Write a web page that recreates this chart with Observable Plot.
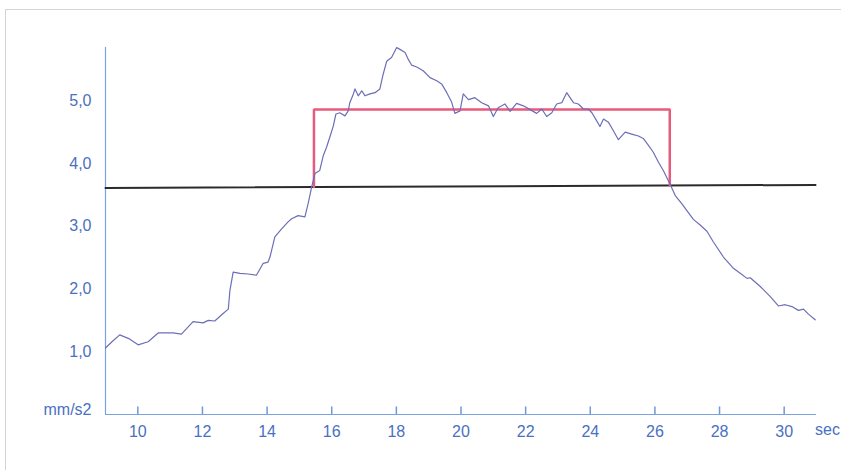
<!DOCTYPE html>
<html><head><meta charset="utf-8">
<script src="https://cdn.jsdelivr.net/npm/d3@7"></script>
<script src="https://cdn.jsdelivr.net/npm/@observablehq/plot@0.6"></script>
<style>
body{margin:0;background:#fff;}
#wrap{position:relative;width:841px;height:470px;overflow:hidden;background:#fff;}
#frame{position:absolute;left:5px;top:9px;width:900px;height:900px;border-left:1px solid #d4d4d4;border-top:1px solid #d4d4d4;}
#wrap svg{position:absolute;left:0;top:0;}
</style></head><body><div id="wrap"><div id="frame"></div></div>
<script>
// Time (s) and acceleration (mm/s2)
const seconds = [9.0,9.20,9.44,9.72,10.01,10.32,10.63,11.09,11.35,11.71,12.02,12.18,12.38,12.64,12.80,12.85,12.95,13.16,13.41,13.67,13.88,14.03,14.09,14.24,14.45,14.65,14.76,14.96,15.17,15.27,15.38,15.48,15.63,15.74,15.84,15.94,16.05,16.13,16.25,16.41,16.51,16.56,16.67,16.72,16.82,16.93,17.03,17.18,17.34,17.49,17.59,17.70,17.85,18.01,18.11,18.27,18.37,18.47,18.63,18.83,19.04,19.25,19.40,19.56,19.71,19.81,19.97,20.07,20.23,20.43,20.64,20.85,21.00,21.15,21.36,21.52,21.72,21.93,22.14,22.34,22.50,22.65,22.81,22.96,23.12,23.27,23.48,23.63,23.79,23.94,24.05,24.20,24.30,24.41,24.56,24.72,24.87,25.08,25.28,25.49,25.64,25.80,25.95,26.11,26.26,26.47,26.63,26.83,27.19,27.40,27.61,27.81,28.12,28.43,28.64,28.85,28.95,29.26,29.57,29.82,30.03,30.24,30.44,30.60,30.75,30.96];
const accel = [1.06,1.16,1.27,1.21,1.11,1.16,1.30,1.30,1.28,1.48,1.46,1.50,1.49,1.61,1.68,1.98,2.27,2.25,2.24,2.22,2.41,2.43,2.51,2.83,2.96,3.07,3.12,3.17,3.15,3.36,3.63,3.84,3.89,4.13,4.26,4.42,4.60,4.79,4.81,4.76,4.84,4.97,5.11,5.19,5.08,5.16,5.08,5.11,5.13,5.19,5.42,5.63,5.69,5.85,5.82,5.77,5.66,5.57,5.54,5.48,5.37,5.32,5.27,5.13,4.98,4.80,4.84,5.11,5.02,5.05,4.97,4.92,4.75,4.89,4.95,4.83,4.96,4.92,4.86,4.80,4.87,4.75,4.81,4.95,4.97,5.13,4.97,4.95,4.87,4.87,4.81,4.68,4.59,4.71,4.66,4.52,4.38,4.50,4.47,4.44,4.40,4.29,4.18,4.02,3.89,3.67,3.49,3.36,3.11,3.02,2.92,2.75,2.51,2.33,2.25,2.17,2.18,2.04,1.88,1.73,1.75,1.72,1.66,1.68,1.60,1.51];

// Threshold line (black)
const thresholdX = [9.0, 30.97];
const thresholdY = [3.61, 3.66];

// Window (pink): corners
const windowX = [15.45, 15.45, 26.46, 26.46];
const windowY = [3.625, 4.86, 4.86, 3.655];

const xTicks = [10,12,14,16,18,20,22,24,26,28,30];
const yTicks = [1,2,3,4,5];

const curve = seconds.map((s, i) => ({s, a: accel[i]}));
const thr = thresholdX.map((s, i) => ({s, a: thresholdY[i]}));
const win = windowX.map((s, i) => ({s, a: windowY[i]}));

const axisColor = "#7aa2e0";
const labelColor = "#4a70c2";

const chart = Plot.plot({
  width: 841,
  height: 470,
  marginLeft: 105,
  marginRight: 25,
  marginTop: 47,
  marginBottom: 56,
  style: {fontFamily: "'Liberation Sans', Arial, sans-serif", fontSize: "16px", color: labelColor, background: "transparent"},
  x: {domain: [9, 31]},
  y: {domain: [0, 5.85]},
  marks: [
    Plot.ruleX([9], {stroke: axisColor, strokeWidth: 1.2}),
    Plot.ruleY([0], {stroke: axisColor, strokeWidth: 1.2}),
    Plot.ruleX(xTicks, {x: d => d, y1: 0, y2: 0.12, stroke: "#6f98da", strokeWidth: 1.5}),
    Plot.axisX(xTicks, {tickSize: 0, tickPadding: 11, fontSize: 16, fill: labelColor, label: null}),
    Plot.axisY(yTicks, {tickSize: 0, tickPadding: 14, fontSize: 16, fill: labelColor, label: null,
      tickFormat: d => d.toFixed(1).replace(".", ",")}),
    Plot.text(["sec"], {frameAnchor: "bottom-right", dx: 11, dy: 20, textAnchor: "middle", fill: labelColor, fontSize: 16}),
    Plot.text(["mm/s2"], {frameAnchor: "bottom-left", dx: -14, dy: 0, textAnchor: "end", fill: labelColor, fontSize: 16}),
    Plot.line(thr, {x: "s", y: "a", stroke: "#2b2b2b", strokeWidth: 2}),
    Plot.line(win, {x: "s", y: "a", stroke: "#e85a7e", strokeWidth: 2.5, strokeLinejoin: "miter"}),
    Plot.line(curve, {x: "s", y: "a", stroke: "#6c6fb6", strokeWidth: 1.2})
  ]
});
document.getElementById("wrap").appendChild(chart);
</script>
</body></html>
